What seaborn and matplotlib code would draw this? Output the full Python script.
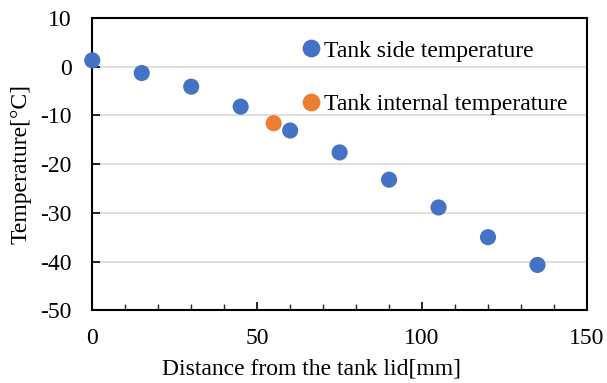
import matplotlib
matplotlib.use("Agg")
import matplotlib.pyplot as plt
import seaborn as sns
import pandas as pd
from matplotlib.ticker import MultipleLocator

side_x = [0, 15, 30, 45, 60, 75, 90, 105, 120, 135]
side_y = [1.3, -1.3, -4.1, -8.2, -13.1, -17.6, -23.2, -28.9, -35.0, -40.7]
internal_x = [55]
internal_y = [-11.6]
labels = ["Tank side temperature", "Tank internal temperature"]

sns.set_theme(style="white")
plt.rcParams['font.family'] = ['Liberation Serif', 'DejaVu Serif']
plt.rcParams['axes.unicode_minus'] = False

df = pd.DataFrame({
    "x": side_x + internal_x,
    "y": side_y + internal_y,
    "series": [labels[0]] * len(side_x) + [labels[1]] * len(internal_x),
})

fig, ax = plt.subplots(figsize=(6.07, 3.83), dpi=100)
fig.subplots_adjust(left=0.152, right=0.967, top=0.953, bottom=0.19)

sns.scatterplot(data=df, x="x", y="y", hue="series",
                palette={labels[0]: "#4472C4", labels[1]: "#ED7D31"},
                s=135, edgecolor="none", ax=ax, zorder=3, clip_on=False)

ax.set_xlim(0, 150)
ax.set_ylim(-50, 10)
ax.xaxis.set_major_locator(MultipleLocator(50))
ax.xaxis.set_minor_locator(MultipleLocator(10))
ax.yaxis.set_major_locator(MultipleLocator(10))
ax.yaxis.grid(True, color="#D9D9D9", linewidth=1.2)
ax.set_axisbelow(True)
ax.tick_params(axis="both", which="major", direction="in", length=6, width=1.2,
               labelsize=17, colors="black")
ax.tick_params(axis="y", which="major", pad=15, left=True)
ax.tick_params(axis="x", which="major", pad=13, bottom=True)
ax.tick_params(axis="x", which="minor", direction="in", length=4, width=1.0, bottom=True)
for sp in ax.spines.values():
    sp.set_color("black")
    sp.set_linewidth(1.5)

ax.set_xlabel("Distance from the tank lid[mm]", fontsize=17, color="black", labelpad=10)
ax.xaxis.set_label_coords(0.443, -0.165, transform=ax.transAxes)
ax.set_ylabel("Temperature[°C]", fontsize=17, color="black", labelpad=6)

leg = ax.legend(loc="upper left", bbox_to_anchor=(0.408, 0.957), frameon=False,
                fontsize=17, labelspacing=1.37, handlelength=0.6, handletextpad=0.25,
                markerscale=1.1, borderaxespad=0)
for t in leg.get_texts():
    t.set_color("black")

fig.savefig("out.png", dpi=100)
